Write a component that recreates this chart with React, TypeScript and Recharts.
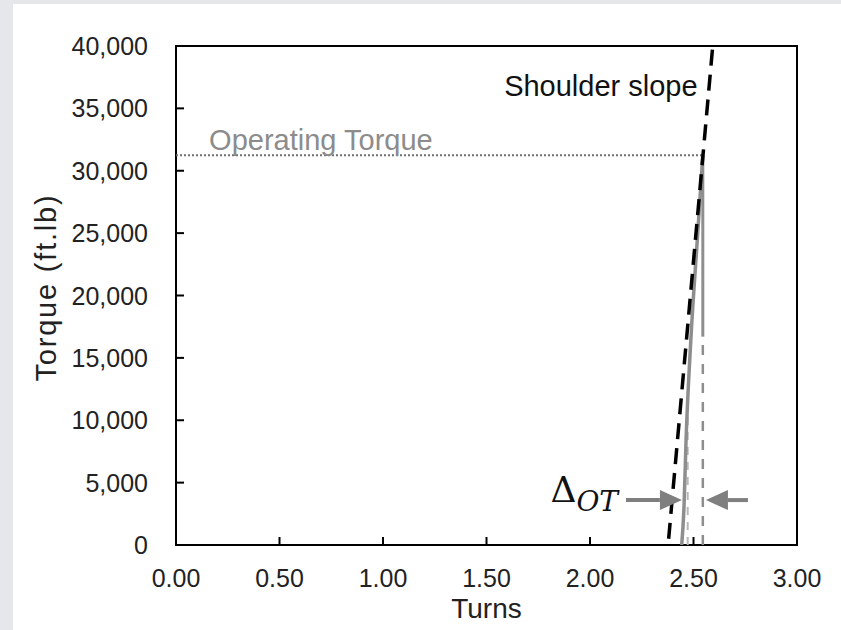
import {
  LineChart, Line, XAxis, YAxis, ReferenceLine, ReferenceArea, ReferenceDot,
} from 'recharts'

const FONT = '"Liberation Sans", Arial, sans-serif'
const SERIF = '"DejaVu Serif", "Liberation Serif", serif'
const INK = '#222'
const GREY = '#8e8e8e'

// axis ticks
const X_TICKS = [0, 0.5, 1, 1.5, 2, 2.5, 3]
const Y_TICKS = [0, 5000, 10000, 15000, 20000, 25000, 30000, 35000, 40000]

// measured torque-turn curve
const CURVE_TURNS = [2.443, 2.454, 2.464, 2.487, 2.518, 2.545]
const CURVE_TORQUE = [0, 3000, 8400, 16400, 24400, 31250]

// shoulder slope (dashed)
const SLOPE_TURNS = [2.38, 2.593]
const SLOPE_TORQUE = [500, 40000]

// operating torque level
const OT_TURNS = [0, 2.545]
const OT_TORQUE = [31250, 31250]

// make-up point drop line
const MAKEUP_TURNS = [2.545, 2.545]
const MAKEUP_SOLID = [16700, 31250]
const MAKEUP_DASHED = [0, 16700]

// start of curve marker
const START_TURNS = [2.472, 2.472]
const START_TORQUE = [0, 11500]

// delta OT arrows
const ARROW_TORQUE = 3600
const ARROW_LEFT = [2.174, 2.444]
const ARROW_RIGHT = [2.763, 2.56]

const zip = (xs: number[], ys: number[]) => xs.map((t, i) => ({ turns: t, torque: ys[i] }))

const curve = zip(CURVE_TURNS, CURVE_TORQUE)
const slope = zip(SLOPE_TURNS, SLOPE_TORQUE)
const opTorque = zip(OT_TURNS, OT_TORQUE)
const makeupSolid = zip(MAKEUP_TURNS, MAKEUP_SOLID)
const makeupDashed = zip(MAKEUP_TURNS, MAKEUP_DASHED)
const start = zip(START_TURNS, START_TORQUE)

const fmtY = (v: number) => v.toLocaleString('en-US')

function XTick({ x, y, payload }: any) {
  return (
    <g>
      <line x1={x} x2={x} y1={y - 24} y2={y - 32} stroke="#000" strokeWidth={2} />
      <text x={x} y={y} dy="0.72em" textAnchor="middle" fill={INK}
            style={{ fontFamily: FONT, fontSize: 25 }}>
        {Number(payload.value).toFixed(2)}
      </text>
    </g>
  )
}

function YTick({ x, y, payload }: any) {
  return (
    <g>
      <line x1={x + 28} x2={x + 36} y1={y} y2={y} stroke="#000" strokeWidth={2} />
      <text x={x} y={y} dy="0.36em" textAnchor="end" fill={INK}
            style={{ fontFamily: FONT, fontSize: 25 }}>
        {fmtY(payload.value)}
      </text>
    </g>
  )
}

function arrow(props: any) {
  const { x1, y1, x2, y2 } = props
  const dir = Math.sign(x2 - x1)
  const bx = x2 - dir * 22
  return (
    <g>
      <line x1={x1} y1={y1} x2={bx} y2={y2} stroke="#7f7f7f" strokeWidth={4} />
      <polygon points={`${x2},${y2} ${bx},${y2 - 10} ${bx},${y2 + 10}`} fill="#7f7f7f" />
    </g>
  )
}

export default function App() {
  return (
    <div style={{ position: 'absolute', left: 0, top: 0, width: 841, height: 630, background: '#e6e7ea' }}>
      <div style={{ position: 'absolute', left: 13, top: 4, width: 828, height: 626, background: '#fff' }} />
      <div style={{ position: 'absolute', left: 0, top: 0 }}>
        <LineChart width={841} height={630} margin={{ top: 46, right: 44, bottom: 0, left: 0 }}>
          <XAxis
            dataKey="turns" type="number" domain={[0, 3]} ticks={X_TICKS} interval={0}
            allowDataOverflow axisLine={false} tickLine={false} tickSize={0} tickMargin={24}
            height={85} tick={XTick}
            label={({ viewBox }: any) => (
              <text x={viewBox.x + viewBox.width / 2} y={viewBox.y + 73} textAnchor="middle" fill={INK}
                    style={{ fontFamily: FONT, fontSize: 28 }}>
                Turns
              </text>
            )}
          />
          <YAxis
            dataKey="torque" type="number" domain={[0, 40000]} ticks={Y_TICKS} interval={0}
            allowDataOverflow axisLine={false} tickLine={false} tickSize={0} tickMargin={28}
            width={176} tick={YTick}
            label={({ viewBox }: any) => {
              const cx = viewBox.x + 46
              const cy = viewBox.y + viewBox.height / 2 - 8
              return (
                <text x={cx} y={cy} transform={`rotate(-90 ${cx} ${cy})`} dy="0.36em" textAnchor="middle"
                      fill={INK} style={{ fontFamily: FONT, fontSize: 29, letterSpacing: 1.8 }}>
                  Torque (ft.lb)
                </text>
              )
            }}
          />

          <ReferenceArea x1={0} x2={3} y1={0} y2={40000} fill="none" fillOpacity={0}
                         stroke="#000" strokeWidth={2} ifOverflow="visible" />

          <Line data={opTorque} dataKey="torque" type="linear" stroke="#707070" strokeWidth={2}
                strokeDasharray="2 2" dot={false} activeDot={false} isAnimationActive={false} />
          <Line data={start} dataKey="torque" type="linear" stroke="#b8b8b8" strokeWidth={2}
                strokeDasharray="8 7" dot={false} activeDot={false} isAnimationActive={false} />
          <Line data={makeupDashed} dataKey="torque" type="linear" stroke={GREY} strokeWidth={2.5}
                strokeDasharray="10 9" dot={false} activeDot={false} isAnimationActive={false} />
          <Line data={makeupSolid} dataKey="torque" type="linear" stroke={GREY} strokeWidth={3}
                dot={false} activeDot={false} isAnimationActive={false} />
          <Line data={curve} dataKey="torque" type="monotone" stroke={GREY} strokeWidth={3.5}
                dot={false} activeDot={false} isAnimationActive={false} />
          <Line data={slope} dataKey="torque" type="linear" stroke="#000" strokeWidth={3.5}
                strokeDasharray="16 9" dot={false} activeDot={false} isAnimationActive={false} />

          <ReferenceLine
            segment={[{ x: ARROW_LEFT[0], y: ARROW_TORQUE }, { x: ARROW_LEFT[1], y: ARROW_TORQUE }]}
            shape={arrow}
          />
          <ReferenceLine
            segment={[{ x: ARROW_RIGHT[0], y: ARROW_TORQUE }, { x: ARROW_RIGHT[1], y: ARROW_TORQUE }]}
            shape={arrow}
          />

          <ReferenceDot x={2.52} y={36000} r={0} shape={(p: any) => (
            <text x={p.cx} y={p.cy} textAnchor="end" fill="#111"
                  style={{ fontFamily: FONT, fontSize: 29 }}>
              Shoulder slope
            </text>
          )} />
          <ReferenceDot x={0.16} y={31700} r={0} shape={(p: any) => (
            <text x={p.cx} y={p.cy} textAnchor="start" fill="#8c8c8c"
                  style={{ fontFamily: FONT, fontSize: 29 }}>
              Operating Torque
            </text>
          )} />
          <ReferenceDot x={ARROW_LEFT[0]} y={ARROW_TORQUE} r={0} shape={(p: any) => (
            <text x={p.cx - 8} y={p.cy + 2} textAnchor="end" fill="#111" style={{ fontFamily: SERIF }}>
              <tspan style={{ fontSize: 36 }}>Δ</tspan>
              <tspan dy={9} style={{ fontSize: 28, fontStyle: 'italic' }}>OT</tspan>
            </text>
          )} />
        </LineChart>
      </div>
    </div>
  )
}
